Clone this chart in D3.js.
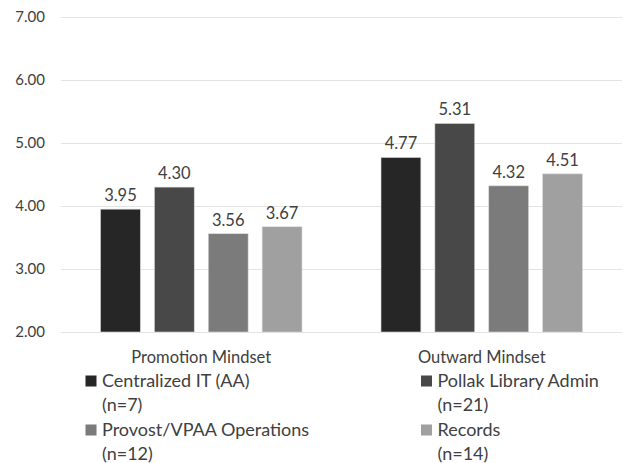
<!DOCTYPE html>
<html><head><meta charset="utf-8">
<script src="https://cdn.jsdelivr.net/npm/d3@7"></script>
<style>body{margin:0;background:#fff}svg{display:block}text{font-family:Lato,sans-serif;fill:#404040}</style>
</head><body>
<svg id="c" width="628" height="463"></svg>
<script>
const categories = ["Promotion Mindset", "Outward Mindset"];
const seriesNames = ["Centralized IT (AA)", "Pollak Library Admin", "Provost/VPAA Operations", "Records"];
const seriesN = ["(n=7)", "(n=21)", "(n=12)", "(n=14)"];
const seriesColors = ["#262626", "#484848", "#7b7b7b", "#a0a0a0"];
const values = [
  [3.95, 4.30, 3.56, 3.67],
  [4.77, 5.31, 4.32, 4.51]
];
const yTicks = [2, 3, 4, 5, 6, 7];

(function(){
const svg = d3.select("#c");
const pL = 61, pR = 622, pT = 17, pB = 332;
const y = d3.scaleLinear().domain([2, 7]).range([pB, pT]);
const x0 = d3.scaleBand().domain(categories).range([pL, pR]).paddingInner(0).paddingOuter(0);
const x1 = d3.scaleBand().domain(d3.range(4)).range([39.5, x0.bandwidth() - 39.5]).paddingInner(0.26).paddingOuter(0);

svg.append("g").selectAll("line").data(yTicks).join("line")
  .attr("x1", pL).attr("x2", pR)
  .attr("y1", d => Math.round(y(d)) + 0.5).attr("y2", d => Math.round(y(d)) + 0.5)
  .attr("stroke", "#e3e3e3").attr("stroke-width", 1);

svg.append("g").selectAll("text").data(yTicks).join("text")
  .attr("x", 45).attr("y", d => y(d) + 5)
  .attr("text-anchor", "end").attr("font-size", 15)
  .text(d => d.toFixed(2));

const g = svg.append("g").selectAll("g").data(categories).join("g")
  .attr("transform", d => `translate(${x0(d)},0)`);
g.selectAll("rect").data((d, i) => values[i].map((v, j) => ({v, j}))).join("rect")
  .attr("x", d => x1(d.j)).attr("width", x1.bandwidth())
  .attr("y", d => y(d.v)).attr("height", d => y(2) - y(d.v))
  .attr("fill", d => seriesColors[d.j])
  .attr("stroke", "#d9d9d9").attr("stroke-width", 0.6);
g.selectAll("text").data((d, i) => values[i].map((v, j) => ({v, j}))).join("text")
  .attr("x", d => x1(d.j) + x1.bandwidth() / 2).attr("y", d => y(d.v) - 8)
  .attr("text-anchor", "middle").attr("font-size", 16.5)
  .text(d => d.v.toFixed(2));

svg.append("g").selectAll("text").data(categories).join("text")
  .attr("x", d => x0(d) + x0.bandwidth() / 2).attr("y", 362.5)
  .attr("text-anchor", "middle").attr("font-size", 16.5)
  .text(d => d);

const legX = [85.5, 421], legY = [386.5, 435.5];
const leg = svg.append("g").selectAll("g").data(seriesNames).join("g")
  .attr("transform", (d, i) => `translate(${legX[i % 2]},${legY[Math.floor(i / 2)]})`);
leg.append("rect").attr("x", 0).attr("y", -11).attr("width", 11).attr("height", 11)
  .attr("fill", (d, i) => seriesColors[i]);
leg.append("text").attr("x", 16.5).attr("y", 0).attr("font-size", 18)
  .text(d => d);
leg.append("text").attr("x", 16.5).attr("y", 24.5).attr("font-size", 18)
  .text((d, i) => seriesN[i]);
})();
</script>
</body></html>
